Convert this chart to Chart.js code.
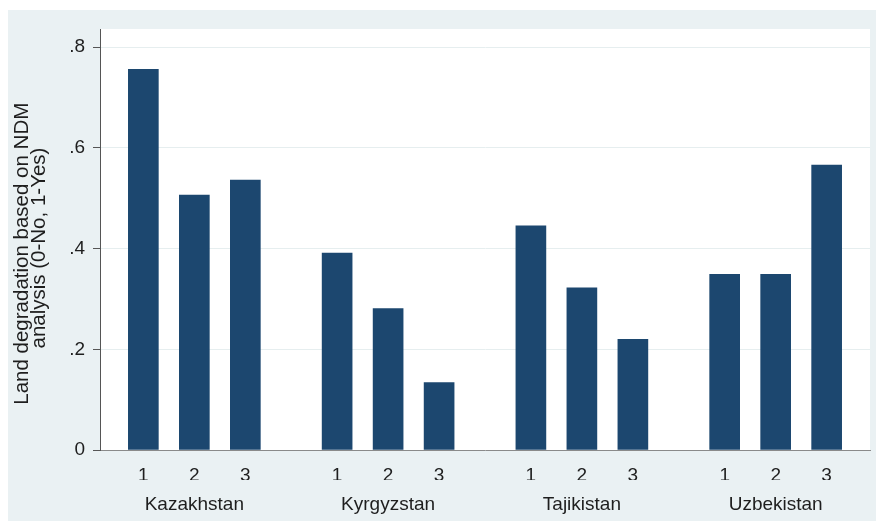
<!DOCTYPE html>
<html>
<head>
<meta charset="utf-8">
<script src="https://cdn.jsdelivr.net/npm/chart.js@4/dist/chart.umd.min.js"></script>
<style>
  body { margin: 0; background: #fff; }
</style>
</head>
<body>
<canvas id="canvas" width="886" height="522"></canvas>
<script>
// data
const countries = ['Kazakhstan', 'Kyrgyzstan', 'Tajikistan', 'Uzbekistan'];
const subLabels = ['1', '2', '3'];
const kazakhstan = [0.756, 0.506, 0.536];
const kyrgyzstan = [0.391, 0.281, 0.134];
const tajikistan = [0.445, 0.322, 0.220];
const uzbekistan = [0.349, 0.349, 0.566];
const yTicks = [0, 0.2, 0.4, 0.6, 0.8];
const yTickLabels = ['0', '.2', '.4', '.6', '.8'];
const yTitle = ['Land degradation based on NDM', 'analysis (0-No, 1-Yes)'];

const groups = [kazakhstan, kyrgyzstan, tajikistan, uzbekistan];
const GROUP_STEP = 3.8; // distance between groups, in bar slots

// bar positions on the linear x scale
const points = [];
const barTicks = [];
const groupTicks = [];
groups.forEach((vals, g) => {
    vals.forEach((v, i) => {
        const x = g * GROUP_STEP + i + 1;
        points.push({ x: x, y: v });
        barTicks.push({ value: x });
    });
    groupTicks.push({ value: g * GROUP_STEP + 2 });
});

const font = "'Liberation Sans', Arial, Helvetica, sans-serif";

// title sits a little below the plot middle in the original, pad the top end
const titleText = [yTitle[0] + '\u00a0\u00a0\u00a0\u00a0\u00a0', yTitle[1] + '\u00a0\u00a0\u00a0'];

// outer stata-like background + white plot region
const backdrop = {
    id: 'backdrop',
    beforeDraw(chart) {
        const { ctx, chartArea } = chart;
        ctx.save();
        ctx.fillStyle = '#eaf1f3';
        ctx.fillRect(8, 10, 868, 511);
        ctx.fillStyle = '#ffffff';
        ctx.fillRect(chartArea.left, chartArea.top, chartArea.right - chartArea.left, chartArea.bottom - chartArea.top);
        ctx.restore();
    }
};

new Chart(document.getElementById('canvas').getContext('2d'), {
    type: 'bar',
    data: {
        datasets: [{
            data: points,
            backgroundColor: '#1c476f',
            borderWidth: 0,
            barThickness: 30,
            xAxisID: 'x',
            yAxisID: 'y'
        }]
    },
    options: {
        responsive: false,
        animation: false,
        events: [],
        layout: { padding: { top: 29, right: 16, bottom: 0, left: 0 } },
        plugins: {
            legend: { display: false },
            tooltip: { enabled: false }
        },
        scales: {
            x: {
                type: 'linear',
                position: 'bottom',
                weight: 0,
                min: 0.15,
                max: 15.25,
                offset: false,
                grid: { display: false },
                border: { display: true, color: '#8a8a8a', width: 1 },
                afterBuildTicks: s => { s.ticks = barTicks.map(t => ({ value: t.value })); },
                afterFit: s => { s.height = 30; },
                ticks: {
                    autoSkip: false,
                    maxRotation: 0,
                    padding: 6,
                    color: '#1e1e1e',
                    font: { family: font, size: 19 },
                    callback: (v, i) => subLabels[i % subLabels.length]
                }
            },
            x2: {
                type: 'linear',
                position: 'bottom',
                weight: 1,
                min: 0.15,
                max: 15.25,
                offset: false,
                grid: { display: false },
                border: { display: false },
                afterBuildTicks: s => { s.ticks = groupTicks.map(t => ({ value: t.value })); },
                afterFit: s => { s.height = 42; },
                ticks: {
                    autoSkip: false,
                    maxRotation: 0,
                    padding: 5,
                    color: '#1e1e1e',
                    font: { family: font, size: 19 },
                    callback: (v, i) => countries[i]
                }
            },
            y: {
                min: 0,
                max: 0.836,
                afterBuildTicks: s => { s.ticks = yTicks.map(v => ({ value: v })); },
                afterFit: s => { s.width = 100; },
                grid: {
                    color: '#e6eeef',
                    lineWidth: 1,
                    tickLength: 7,
                    tickColor: '#555555'
                },
                border: { display: true, color: '#555555', width: 1 },
                ticks: {
                    padding: 8,
                    color: '#1e1e1e',
                    font: { family: font, size: 19 },
                    callback: (v, i) => yTickLabels[i]
                },
                title: {
                    display: true,
                    text: titleText,
                    color: '#1e1e1e',
                    font: { family: font, size: 20.5, lineHeight: 0.85 },
                    padding: { top: 13.5, bottom: 0 }
                }
            }
        }
    },
    plugins: [backdrop]
});
</script>
</body>
</html>
